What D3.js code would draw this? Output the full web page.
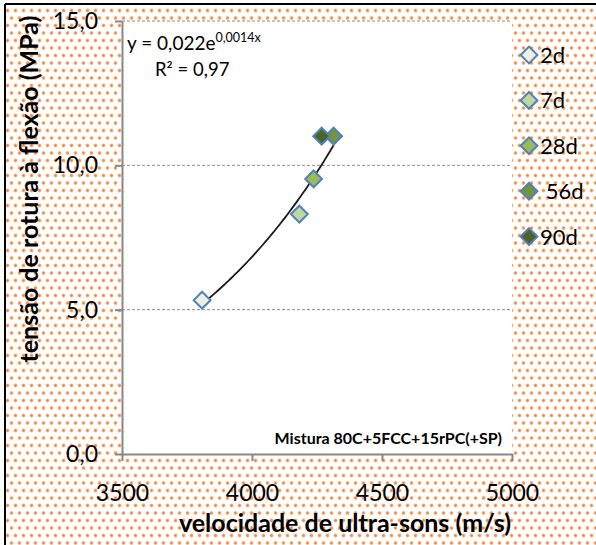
<!DOCTYPE html>
<html>
<head>
<meta charset="utf-8">
<script src="https://cdn.jsdelivr.net/npm/d3@7"></script>
<style>
  body { margin: 0; background: #fff; }
  svg { display: block; font-family: Lato, "Open Sans", sans-serif; }
</style>
</head>
<body>
<svg id="chart" width="596" height="545"></svg>
<script>
// Flexural strength vs. ultrasonic pulse velocity, by curing age
const series   = ["2d", "7d", "28d", " 56d", "90d"];
const velocity = [3808, 4182, 4237, 4314, 4268];   // m/s
const strength = [5.33, 8.31, 9.53, 11.01, 11.01]; // MPa
const fills    = ["#EBF1DE", "#C3D69B", "#9BBB59", "#77933C", "#4F6228"];

const xTicks = [3500, 4000, 4500, 5000];
const yTicks = [0, 5, 10, 15];

// Exponential trendline y = a·e^(b·x)
const trendA = 0.0224;
const trendB = 0.00143;
const trendR2 = 0.97;

const mixLabel = "Mistura 80C+5FCC+15rPC(+SP)";
const xTitle = "velocidade de ultra-sons (m/s)";
const yTitle = "tensão de rotura à flexão (MPa)";

const pt = d3.formatLocale({decimal: ",", thousands: ".", grouping: [3], currency: ["", " €"]});

const svg = d3.select("#chart");
const W = 596, H = 545;
const plot = {left: 122, right: 512, top: 21, bottom: 454};

// dotted background
const defs = svg.append("defs");
const pat = defs.append("pattern")
  .attr("id", "dots").attr("patternUnits", "userSpaceOnUse")
  .attr("width", 8).attr("height", 15);
pat.append("rect").attr("width", 8).attr("height", 15).attr("fill", "#fff");
[[3.5, 3], [7.5, 10.5], [-0.5, 10.5]].forEach(([cx, cy]) => {
  pat.append("circle").attr("cx", cx).attr("cy", cy).attr("r", 2).attr("fill", "#FAC39A");
  pat.append("circle").attr("cx", cx).attr("cy", cy).attr("r", 1.2).attr("fill", "#F5873A");
});

svg.append("rect").attr("width", W).attr("height", H).attr("fill", "#fff");
svg.append("rect").attr("x", 5).attr("y", 4).attr("width", W - 5).attr("height", H - 4)
  .attr("fill", "url(#dots)");
svg.append("line").attr("x1", 5).attr("x2", 5).attr("y1", 4).attr("y2", H)
  .attr("stroke", "#000").attr("stroke-width", 2);
svg.append("line").attr("x1", 5).attr("x2", W).attr("y1", 4).attr("y2", 4)
  .attr("stroke", "#000").attr("stroke-width", 2);

// plot area
svg.append("rect")
  .attr("x", plot.left).attr("y", plot.top)
  .attr("width", plot.right - plot.left).attr("height", plot.bottom - plot.top)
  .attr("fill", "#fff");

const x = d3.scaleLinear().domain([3500, 5000]).range([plot.left, plot.right]);
const y = d3.scaleLinear().domain([0, 15]).range([plot.bottom, plot.top]);

// gridlines
svg.append("g").selectAll("line")
  .data(yTicks.filter(v => v > 0))
  .join("line")
  .attr("x1", plot.left).attr("x2", plot.right)
  .attr("y1", d => y(d)).attr("y2", d => y(d))
  .attr("stroke", "#8c8c8c").attr("stroke-width", 1)
  .attr("stroke-dasharray", "3,2");

// axes
const xAxis = svg.append("g")
  .attr("transform", `translate(0,${plot.bottom})`)
  .call(d3.axisBottom(x).tickValues(xTicks).tickFormat(pt.format("d"))
    .tickSize(7).tickSizeOuter(0).tickPadding(24));
const yAxis = svg.append("g")
  .attr("transform", `translate(${plot.left},0)`)
  .call(d3.axisLeft(y).tickValues(yTicks).tickFormat(pt.format(".1f"))
    .tickSize(7).tickSizeOuter(0).tickPadding(17));
[xAxis, yAxis].forEach(g => {
  g.select(".domain").attr("stroke", "#878787").attr("stroke-width", 2);
  g.selectAll(".tick line").attr("stroke", "#878787").attr("stroke-width", 2);
  g.selectAll(".tick text").attr("fill", "#000")
    .attr("font-family", "Lato, sans-serif").attr("font-size", 23);
});

// trendline over the data range
const xs = d3.extent(velocity);
const trendPts = d3.range(xs[0], xs[1] + 0.1, (xs[1] - xs[0]) / 60)
  .map(v => [v, trendA * Math.exp(trendB * v)]);
svg.append("path")
  .datum(trendPts)
  .attr("fill", "none").attr("stroke", "#1a1a1a").attr("stroke-width", 1.8)
  .attr("d", d3.line().x(d => x(d[0])).y(d => y(d[1])));

// markers
const diamond = d3.symbol().type(d3.symbolDiamond2).size(180);
const pts = series.map((s, i) => ({s, vx: velocity[i], vy: strength[i], fill: fills[i]}));
svg.append("g").selectAll("path")
  .data(pts)
  .join("path")
  .attr("transform", d => `translate(${x(d.vx)},${y(d.vy)})`)
  .attr("d", diamond)
  .attr("fill", d => d.fill)
  .attr("stroke", "#4F81BD").attr("stroke-width", 2);

// equation
const eq = svg.append("text")
  .attr("x", 127).attr("y", 50)
  .attr("font-size", 19).attr("fill", "#000");
eq.append("tspan").text(`y = ${pt.format(".2r")(trendA)}e`);
eq.append("tspan").attr("dy", -8).attr("font-size", 12.5).text(`${pt.format(".2r")(trendB)}x`);
svg.append("text")
  .attr("x", 155).attr("y", 76)
  .attr("font-size", 18.5).attr("fill", "#000")
  .text(`R² = ${pt.format(".2f")(trendR2)}`);

// mix label
svg.append("text")
  .attr("x", 502).attr("y", 444).attr("text-anchor", "end")
  .attr("font-size", 16).attr("font-weight", 700).attr("fill", "#000")
  .text(mixLabel);

// legend
const lg = svg.append("g").selectAll("g")
  .data(pts)
  .join("g")
  .attr("transform", (d, i) => `translate(529,${55 + i * 45.4})`);
lg.append("path").attr("d", diamond)
  .attr("fill", d => d.fill)
  .attr("stroke", "#4F81BD").attr("stroke-width", 2);
lg.append("text")
  .attr("x", 11).attr("y", 8)
  .attr("font-size", 22).attr("fill", "#000")
  .style("white-space", "pre")
  .text(d => d.s);

// axis titles
svg.append("text")
  .attr("x", 345).attr("y", 532)
  .attr("text-anchor", "middle")
  .attr("font-size", 25).attr("font-weight", 700).attr("fill", "#000")
  .text(xTitle);
svg.append("text")
  .attr("transform", "translate(38,189) rotate(-90)")
  .attr("text-anchor", "middle")
  .attr("font-size", 25).attr("font-weight", 700).attr("fill", "#000")
  .text(yTitle);
</script>
</body>
</html>
